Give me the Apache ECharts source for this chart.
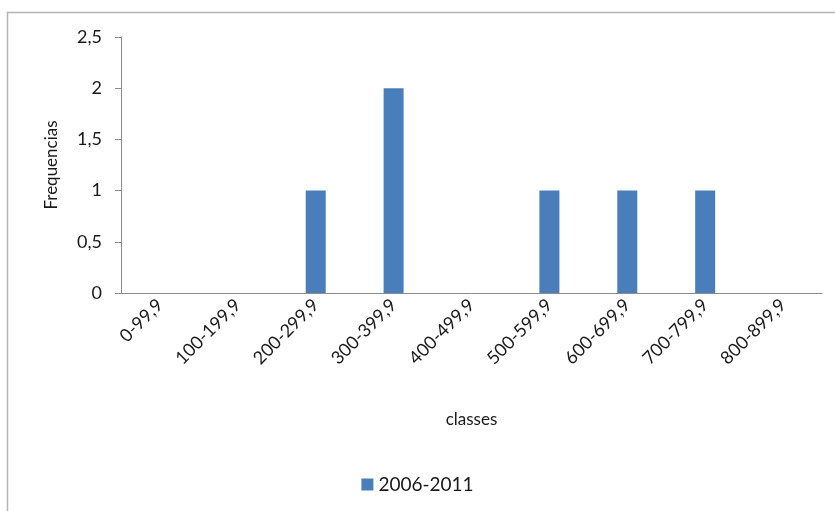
<!DOCTYPE html>
<html>
<head>
<meta charset="utf-8">
<script src="https://cdn.jsdelivr.net/npm/echarts@6/dist/echarts.min.js"></script>
<style>
  html, body { margin: 0; padding: 0; background: #fff; }
  #chart { width: 835px; height: 511px; }
</style>
</head>
<body>
<div id="chart"></div>
<script>
// Frequency classes and counts for the period
const classes = ['0-99,9', '100-199,9', '200-299,9', '300-399,9', '400-499,9',
                 '500-599,9', '600-699,9', '700-799,9', '800-899,9'];
const freq2006_2011 = [0, 0, 1, 2, 0, 1, 1, 1, 0];
const seriesName = '2006-2011';
const yAxisTitle = 'Frequencias';
const xAxisTitle = 'classes';

const FONT = 'Lato, "Open Sans", sans-serif';
const TEXT = '#1a1a1a';

const chart = echarts.init(document.getElementById('chart'), null, { renderer: 'canvas' });

chart.setOption({
  animation: false,
  backgroundColor: '#ffffff',
  textStyle: { fontFamily: FONT },
  graphic: [
    {
      type: 'polyline',
      shape: { points: [[7.5, 511], [7.5, 12.5], [835, 12.5]] },
      style: { stroke: '#b4b4b4', lineWidth: 1.5, fill: null },
      silent: true
    }
  ],
  grid: { left: 121, right: 13, top: 37, bottom: 218, containLabel: false },
  legend: {
    left: 'center',
    top: 470,
    itemWidth: 12,
    itemHeight: 12,
    itemGap: 3,
    icon: 'rect',
    textStyle: { fontFamily: FONT, fontSize: 19, color: TEXT },
    data: [seriesName]
  },
  xAxis: {
    type: 'category',
    data: classes,
    name: xAxisTitle,
    nameLocation: 'middle',
    nameGap: 118,
    nameTextStyle: { fontFamily: FONT, fontSize: 17, color: TEXT },
    axisLine: { lineStyle: { color: '#8c8c8c', width: 1 } },
    axisTick: { show: false },
    axisLabel: {
      rotate: 45,
      margin: 9,
      fontFamily: FONT,
      fontSize: 18,
      color: TEXT,
      interval: 0
    }
  },
  yAxis: {
    type: 'value',
    min: 0,
    max: 2.5,
    interval: 0.5,
    name: yAxisTitle,
    nameLocation: 'middle',
    nameGap: 61,
    nameTextStyle: { fontFamily: FONT, fontSize: 17, color: TEXT },
    splitLine: { show: false },
    axisLine: { show: true, lineStyle: { color: '#8c8c8c', width: 1 } },
    axisTick: { show: true, inside: false, length: 6, lineStyle: { color: '#8c8c8c' } },
    axisLabel: {
      margin: 19,
      fontFamily: FONT,
      fontSize: 18,
      color: TEXT,
      formatter: v => String(v).replace('.', ',')
    }
  },
  series: [
    {
      name: seriesName,
      type: 'bar',
      data: freq2006_2011,
      barWidth: 20,
      itemStyle: { color: '#4a7ebb' }
    }
  ]
});
</script>
</body>
</html>
